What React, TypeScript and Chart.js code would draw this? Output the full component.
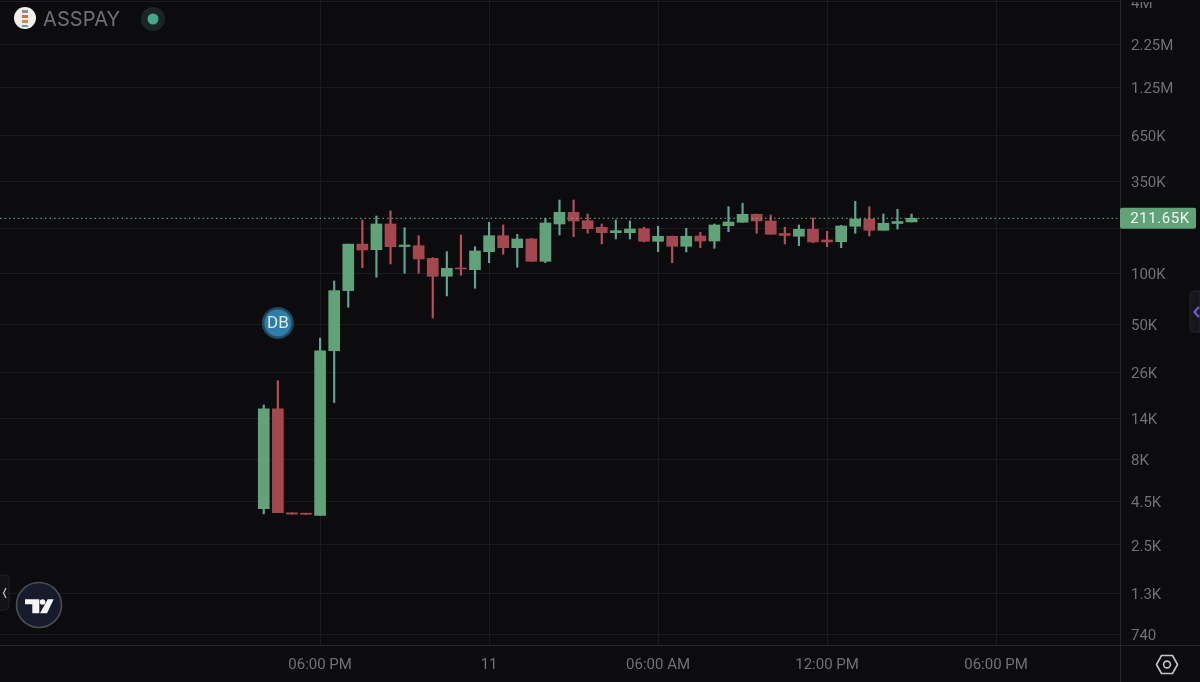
import React, { useEffect, useRef } from "react";
import { Chart, registerables } from "chart.js";

Chart.register(...registerables);

const symbolName = "ASSPAY";
const opens = [4090,15870,3870,3850,3740,35000,79200,149000,138200,195900,144200,145900,122900,96300,107800,105300,134500,167100,142000,159800,118000,195900,229700,204900,187300,174100,174100,183800,154900,165800,144700,166400,155500,191500,200500,223500,204100,172200,165800,182300,157600,154000,189900,209700,179900,197200,201300];
const highs = [16750,23300,3870,3850,41500,90300,149000,206900,218400,233800,186300,167100,124000,134500,168700,143900,200500,193300,170300,161300,211700,271400,271400,224400,195900,206900,204100,187300,189900,166400,184800,175000,195900,247800,259600,224400,221400,187300,193300,212600,177400,192500,266700,247800,224400,239200,224400];
const lows = [3810,3880,3800,3790,3740,17300,63200,108200,95000,113800,100300,100300,54600,73700,97600,81800,115800,129800,108800,118000,115800,168700,164900,172700,149300,159800,159800,153400,134500,115800,133900,142000,140800,176500,200500,172700,170300,149300,145900,152000,143900,142000,172700,166400,179900,183000,201300];
const closes = [15870,3880,3800,3790,35000,79200,149000,137600,195900,143900,147300,121800,96300,107300,106300,135800,167100,142000,159800,118000,198600,229700,204100,183800,174100,178900,183000,154900,165800,144700,165800,155500,193300,201300,223500,204100,170300,167600,182300,153400,153400,190700,209700,179900,197800,202700,211650];

const xTickPositions = [4, 16, 28, 40, 52];
const xTickLabels = ["06:00 PM", "11", "06:00 AM", "12:00 PM", "06:00 PM"];
const yTickValues = [4000000,2250000,1250000,650000,350000,185000,100000,50000,26000,14000,8000,4500,2500,1300,740];
const yTickLabels = ["4M","2.25M","1.25M","650K","350K","","100K","50K","26K","14K","8K","4.5K","2.5K","1.3K","740"];
const lastPrice = 211650;
const lastPriceLabel = "211.65K";
const markerIndex = 1;
const markerValue = 51000;
const markerLabel = "DB";

const BG = "#0c0c0f";
const GRID = "#1c1c1f";
const AXIS = "#26262a";
const TEXT = "#707075";
const GREEN = "#60a379";
const RED = "#a4474f";
const GREEN_WICK = "#5ea596";
const RED_WICK = "#b94f58";
const FONT = "Roboto, Inter, sans-serif";

const noPadding = (s: any) => {
  s.paddingTop = 0;
  s.paddingBottom = 0;
  s.paddingLeft = 0;
  s.paddingRight = 0;
};

const overlayPlugin = {
  id: "overlay",
  beforeDraw(chart: any) {
    const { ctx, width, height, scales } = chart;
    ctx.save();
    ctx.fillStyle = BG;
    ctx.fillRect(0, 0, width, height);
    ctx.restore();
    // The reference sets its price labels about 2px lower than Chart.js does.
    const yScale = scales.y;
    if (!yScale.__shifted) {
      const draw = yScale.drawLabels;
      yScale.drawLabels = function (area: any) {
        this.ctx.save();
        this.ctx.translate(0, 2);
        draw.call(this, area);
        this.ctx.restore();
      };
      yScale.__shifted = true;
    }
  },
  afterDraw(chart: any) {
    const { ctx, scales, chartArea, width, height } = chart;
    ctx.save();
    ctx.strokeStyle = AXIS;
    ctx.lineWidth = 1;
    ctx.beginPath();
    ctx.moveTo(0, chartArea.bottom + 0.5);
    ctx.lineTo(width, chartArea.bottom + 0.5);
    ctx.moveTo(chartArea.right + 0.5, 0);
    ctx.lineTo(chartArea.right + 0.5, height);
    ctx.stroke();

    const py = scales.y.getPixelForValue(lastPrice);
    ctx.fillStyle = GREEN;
    ctx.beginPath();
    ctx.roundRect(chartArea.right, py - 10.5, 76, 21, 2);
    ctx.fill();
    ctx.fillStyle = "#f2f5f2";
    ctx.font = `15px ${FONT}`;
    ctx.textAlign = "center";
    ctx.textBaseline = "middle";
    (ctx as any).letterSpacing = "0.6px";
    ctx.fillText(lastPriceLabel, chartArea.right + 40, py + 1);
    (ctx as any).letterSpacing = "0px";

    const mx = scales.x.getPixelForValue(markerIndex);
    const my = scales.y.getPixelForValue(markerValue);
    ctx.beginPath();
    ctx.arc(mx, my, 16, 0, Math.PI * 2);
    ctx.fillStyle = "#1d4a63";
    ctx.fill();
    ctx.beginPath();
    ctx.arc(mx, my, 13.5, 0, Math.PI * 2);
    ctx.fillStyle = "#2f7ea6";
    ctx.fill();
    ctx.fillStyle = "#dfeaf0";
    ctx.font = `17px ${FONT}`;
    ctx.fillText(markerLabel, mx, my + 1);
    ctx.restore();
  },
};

export default function App() {
  const ref = useRef<HTMLCanvasElement | null>(null);

  useEffect(() => {
    document.body.style.margin = "0";
    document.body.style.background = BG;
    const up = closes.map((c, i) => c >= opens[i]);
    const xs = opens.map((_, i) => i);
    const chart = new Chart(ref.current as HTMLCanvasElement, {
      type: "bar",
      data: {
        datasets: [
          {
            type: "line",
            label: "Last price",
            data: [{ x: -18.73, y: lastPrice }, { x: 60.8, y: lastPrice }],
            borderColor: "#6fb98a",
            borderWidth: 1,
            borderDash: [1.5, 3],
            pointRadius: 0,
            order: 0,
          },
          {
            label: "Range",
            data: xs.map((i) => ({ x: i, y: [lows[i], highs[i]] })),
            backgroundColor: up.map((u) => (u ? GREEN_WICK : RED_WICK)),
            barThickness: 1.5,
            grouped: false,
            borderWidth: 0,
            order: 2,
          },
          {
            label: "Body",
            data: xs.map((i) => ({ x: i, y: [opens[i], closes[i]] })),
            backgroundColor: up.map((u) => (u ? GREEN : RED)),
            barThickness: 11,
            grouped: false,
            borderWidth: 0,
            order: 1,
          },
        ],
      } as any,
      options: {
        animation: false,
        responsive: false,
        maintainAspectRatio: false,
        layout: { padding: 0, autoPadding: false },
        plugins: { legend: { display: false }, title: { display: false }, tooltip: { enabled: false } },
        scales: {
          x: {
            type: "linear",
            min: -18.73,
            max: 60.8,
            offset: false,
            afterBuildTicks: (s: any) => {
              s.ticks = xTickPositions.map((v) => ({ value: v }));
            },
            afterFit: (s: any) => {
              s.height = 37;
              noPadding(s);
            },
            grid: { color: GRID, drawTicks: false, offset: false },
            border: { display: false },
            ticks: {
              autoSkip: false,
              maxRotation: 0,
              padding: 11,
              color: TEXT,
              font: { family: FONT, size: 15 },
              callback: (_v: any, i: number) => xTickLabels[i],
            },
          },
          y: {
            type: "logarithmic",
            position: "right",
            min: 642,
            max: 4110000,
            afterBuildTicks: (s: any) => {
              s.ticks = yTickValues.map((v) => ({ value: v }));
            },
            afterFit: (s: any) => {
              s.width = 80;
              noPadding(s);
            },
            grid: { color: GRID, drawTicks: false },
            border: { display: false },
            ticks: {
              autoSkip: false,
              padding: 11,
              color: TEXT,
              font: { family: FONT, size: 15 },
              callback: (_v: any, i: number) => yTickLabels[i],
            },
          },
        },
      },
      plugins: [overlayPlugin],
    } as any);
    return () => chart.destroy();
  }, []);

  return (
    <div style={{ position: "absolute", left: 0, top: 0, width: 1200, height: 682, overflow: "hidden", background: BG }}>
      <canvas ref={ref} width={1200} height={682} style={{ position: "absolute", left: 0, top: 0, width: 1200, height: 682 }} />

      <svg width={1200} height={682} style={{ position: "absolute", left: 0, top: 0, pointerEvents: "none" }}>
        {/* coin logo */}
        <circle cx={25} cy={18} r={11} fill="#f1eeea" />
        <rect x={22} y={10} width={6} height={3} fill="#8a8f9a" />
        <rect x={22} y={15} width={6} height={3} fill="#c9705a" />
        <rect x={22} y={20} width={6} height={3} fill="#d08a4a" />
        <rect x={22} y={25} width={6} height={2} fill="#5c9fc0" />
        {/* status dot */}
        <circle cx={153} cy={19} r={12} fill="#1a2524" />
        <circle cx={153} cy={19} r={5.5} fill="#45a98c" />
        {/* left tab */}
        <path d="M0 575 H5 Q9 575 9 579 V606 Q9 610 5 610 H0" fill="#121216" stroke="#222226" />
        <path d="M6 588 L3.5 593 L6 598" fill="none" stroke="#b5b5b8" strokeWidth={1.4} />
        {/* tradingview badge */}
        <circle cx={39} cy={605} r={22.5} fill="#161b2b" stroke="#4a4d55" strokeWidth={1.6} />
        <path d="M25 599.3 H39.3 V613.3 H32.3 V604.3 H25 Z" fill="#f4f4f4" />
        <circle cx={42.5} cy={602} r={2.8} fill="#f4f4f4" />
        <path d="M47.7 599.3 H53.7 L47 613.3 H40 Z" fill="#f4f4f4" />
        {/* right tab */}
        <path d="M1200 291 H1194 Q1190 291 1190 295 V328 Q1190 332 1194 332 H1200 Z" fill="#16161c" stroke="#26262c" />
        <path d="M1199 307 L1194.5 312 L1199 317" fill="none" stroke="#6a5acd" strokeWidth={2.4} />
        {/* settings */}
        <path d="M1161.5 655.5 H1172.5 L1177.5 664.5 L1172.5 673.5 H1161.5 L1156.5 664.5 Z" fill="none" stroke="#c4c4c6" strokeWidth={1.6} strokeLinejoin="round" />
        <circle cx={1167} cy={664.5} r={3.4} fill="none" stroke="#c4c4c6" strokeWidth={1.6} />
      </svg>

      <div style={{ position: "absolute", left: 43, top: 6, fontFamily: "Inter, Roboto, sans-serif", fontSize: 20, lineHeight: "26px", color: "#6f6f74", letterSpacing: "0.1px" }}>
        {symbolName}
      </div>
    </div>
  );
}
